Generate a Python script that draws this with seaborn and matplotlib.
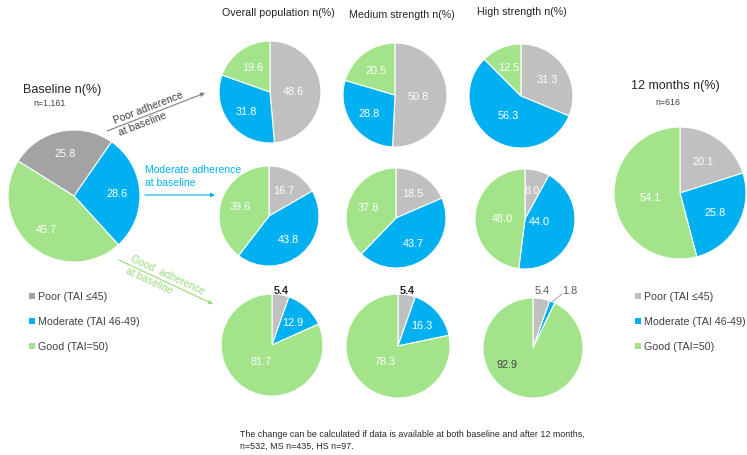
import matplotlib
matplotlib.use("Agg")
import matplotlib.pyplot as plt
import numpy as np
import seaborn as sns

# Adherence categories and shares (%)
categories = ["Poor (TAI ≤45)", "Moderate (TAI 46-49)", "Good (TAI=50)"]
baseline = [25.8, 28.6, 45.7]
month12 = [20.1, 25.8, 54.1]
overall_poor = [48.6, 31.8, 19.6]
overall_moderate = [16.7, 43.8, 39.6]
overall_good = [5.4, 12.9, 81.7]
medium_poor = [50.8, 28.8, 20.5]
medium_moderate = [18.5, 43.7, 37.8]
medium_good = [5.4, 16.3, 78.3]
high_poor = [31.3, 56.3, 12.5]
high_moderate = [8.0, 44.0, 48.0]
high_good = [5.4, 1.8, 92.9]
column_titles = ["Overall population n(%)", "Medium strength n(%)", "High strength n(%)"]
baseline_n = "n=1,161"
month12_n = "n=616"

sns.set_theme(style="white")
plt.rcParams["font.family"] = ["Liberation Sans", "DejaVu Sans"]

W, H = 747, 456
GRAY_DARK = "#A3A3A3"
GRAY = "#C0C0C0"
BLUE = "#00B0F0"
GREEN = "#A3E48B"
TEXT = "#404040"
palette = sns.color_palette([GRAY, BLUE, GREEN])

fig = plt.figure(figsize=(W / 100, H / 100), dpi=100)
fig.patch.set_facecolor("white")

# overlay in pixel units for titles, arrows and legends
ov = fig.add_axes([0, 0, 1, 1])
ov.set_xlim(0, W)
ov.set_ylim(H, 0)
ov.axis("off")


def default_radius(v):
    if v < 46:
        return 0.6
    if v < 75:
        return 0.45
    return 0.38


def label_pie(ax, wedges, values, dist=None, styles=None, overrides=None):
    styles = styles or {}
    overrides = overrides or {}
    for i, (w, v) in enumerate(zip(wedges, values)):
        ang = np.deg2rad((w.theta1 + w.theta2) / 2)
        if i in overrides:
            x, y = overrides[i]
        else:
            d = dist if dist is not None else default_radius(v)
            x, y = d * np.cos(ang), d * np.sin(ang)
        st = dict(color="white", fontsize=7.8)
        st.update(styles.get(i, {}))
        ax.text(x, y, f"{v:.1f}", ha="center", va="center", **st)


def pie(values, cx, cy, r, colors=None, dist=None, styles=None, overrides=None, startangle=90):
    colors = colors or list(palette)
    ax = fig.add_axes([(cx - r) / W, 1 - (cy + r) / H, 2 * r / W, 2 * r / H])
    wedges, _ = ax.pie(values, colors=colors, startangle=startangle, counterclock=False,
                       wedgeprops=dict(edgecolor="white", linewidth=0.8))
    ax.set_xlim(-1, 1)
    ax.set_ylim(-1, 1)
    ax.axis("off")
    label_pie(ax, wedges, values, dist, styles, overrides)
    return ax, wedges


# baseline
pie(baseline, 74, 197, 66, colors=[GRAY_DARK, BLUE, GREEN], dist=0.66, startangle=148)
ov.text(62, 90, "Baseline n(%)", ha="center", va="center", fontsize=9, color="#262626")
ov.text(50, 103, baseline_n, ha="center", va="center", fontsize=6.3, color=TEXT)

# 12 months
pie(month12, 680, 194, 66)
ov.text(675, 86, "12 months n(%)", ha="center", va="center", fontsize=9, color="#262626")
ov.text(668, 103, month12_n, ha="center", va="center", fontsize=6.3, color=TEXT)

# column titles
for t, x, y in zip(column_titles, [278, 402, 522], [13, 15, 12]):
    ov.text(x, y, t, ha="center", va="center", fontsize=7.7, color="#262626")

# poor adherence row
pie(overall_poor, 270, 93, 51)
pie(medium_poor, 395, 96, 52)
pie(high_poor, 521, 97, 52)

# moderate adherence row
pie(overall_moderate, 269, 217, 50)
pie(medium_moderate, 396, 219, 50)
pie(high_moderate, 525, 220, 50, overrides={1: (0.29, -0.04)})

# good adherence row
out_bold = dict(color="#262626", fontweight="bold", fontsize=7.8)
pie(overall_good, 272, 346, 51, styles={0: out_bold}, overrides={0: (0.18, 1.08)})
pie(medium_good, 398, 347, 52, styles={0: out_bold}, overrides={0: (0.18, 1.08)})
ax_hg, w_hg = pie(high_good, 533, 349, 50,
                  styles={0: dict(color="#595959"), 1: dict(color="#595959"),
                          2: dict(color="#404040")},
                  overrides={0: (0.18, 1.16), 1: (0.74, 1.16), 2: (-0.52, -0.32)})
a = np.deg2rad((w_hg[1].theta1 + w_hg[1].theta2) / 2)
ax_hg.plot([np.cos(a), 0.58], [np.sin(a), 1.08], color="#A6A6A6", lw=0.7, clip_on=False)

# transition arrows
arrow = dict(arrowstyle="-|>", lw=0.8, mutation_scale=6, shrinkA=0, shrinkB=0)
ov.annotate("", xy=(205, 94), xytext=(107, 132), arrowprops=dict(color="#7F7F7F", **arrow))
ov.text(151, 114, "Poor adherence\nat baseline", rotation=21, rotation_mode="anchor",
        ha="center", va="center", multialignment="left", linespacing=1.45,
        fontsize=7.5, color=TEXT)

ov.annotate("", xy=(215, 196), xytext=(145, 196), arrowprops=dict(color=BLUE, **arrow))
ov.text(145, 170, "Moderate adherence", ha="left", va="center", fontsize=7.5, color=BLUE)
ov.text(145, 183, "at baseline", ha="left", va="center", fontsize=7.5, color=BLUE)

ov.annotate("", xy=(213, 305), xytext=(119, 261), arrowprops=dict(color="#98DC7C", **arrow))
ov.text(165, 281, "Good  adherence\nat baseline", rotation=-25, rotation_mode="anchor",
        ha="center", va="center", multialignment="left", linespacing=1.4,
        fontsize=7.5, color="#98DC7C")

# legends
for (x_sq, x_tx, gray) in [(32, 38, GRAY_DARK), (638, 644, GRAY)]:
    for lab, col, y in zip(categories, [gray, BLUE, GREEN], [297, 322, 347]):
        ov.scatter([x_sq], [y], marker="s", s=14, color=col, linewidths=0)
        ov.text(x_tx, y, lab, ha="left", va="center", fontsize=7.7, color=TEXT)

# footnote
ov.text(240, 435, "The change can be calculated if data is available at both baseline and after 12 months,",
        ha="left", va="center", fontsize=6.4, color="#262626")
ov.text(240, 446, "n=532, MS n=435, HS n=97.", ha="left", va="center", fontsize=6.4, color="#262626")

fig.savefig("out.png", dpi=100, facecolor="white")
